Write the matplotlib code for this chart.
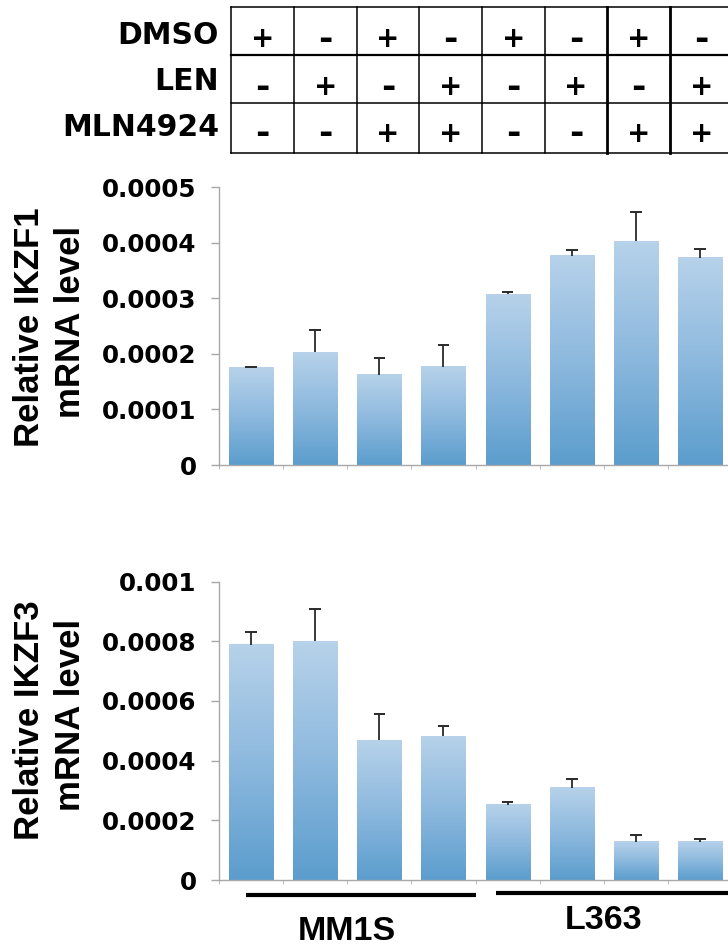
import numpy as np
import matplotlib
matplotlib.use("Agg")
import matplotlib.pyplot as plt
from matplotlib.colors import LinearSegmentedColormap
from matplotlib.lines import Line2D
import matplotlib.transforms as mtransforms

W, H = 728, 951

# treatment table
rows = ["DMSO", "LEN", "MLN4924"]
table = [["+", "-", "+", "-", "+", "-", "+", "-"],
         ["-", "+", "-", "+", "-", "+", "-", "+"],
         ["-", "-", "+", "+", "-", "-", "+", "+"]]

# qPCR values (relative mRNA level) and upper error
ikzf1 = [0.000175, 0.000203, 0.000162, 0.000177, 0.000307, 0.000376, 0.000402, 0.000373]
ikzf1_err = [0.000002, 0.000040, 0.000030, 0.000039, 0.000004, 0.000010, 0.000053, 0.000015]
ikzf3 = [0.000788, 0.000799, 0.000468, 0.000482, 0.000252, 0.000309, 0.000128, 0.000128]
ikzf3_err = [0.000043, 0.000108, 0.000089, 0.000033, 0.000009, 0.000028, 0.000022, 0.000009]
ticks1 = ["0", "0.0001", "0.0002", "0.0003", "0.0004", "0.0005"]
ticks3 = ["0", "0.0002", "0.0004", "0.0006", "0.0008", "0.001"]
groups = ["MM1S", "L363"]

HFONT = "DejaVu Sans"
VFONT = "Liberation Sans"

def fx(x):
    return x / W

def fy(y):
    return 1 - y / H

fig = plt.figure(figsize=(W / 100, H / 100), dpi=100)

cmap = LinearSegmentedColormap.from_list("bar", ["#5b9dcd", "#8db9de", "#b7d2ea"])
grad = np.linspace(0, 1, 256).reshape(-1, 1)


def panel(y_top, y_bot, vals, errs, ymax, labels, ylab, lab_y):
    left, right = 219, 219 + 8 * 64.14
    ax = fig.add_axes([fx(left), fy(y_bot), fx(right - left), (y_bot - y_top) / H])
    x = np.arange(len(vals))
    vals = np.array(vals)
    tops = vals + np.array(errs)
    bw = 0.69
    for xi, v in zip(x, vals):
        ax.imshow(grad, extent=[xi - bw / 2, xi + bw / 2, 0, v], origin="lower",
                  cmap=cmap, aspect="auto", zorder=2)
    # upper-only error bars
    ax.vlines(x, vals, tops, color="#2a2a2a", lw=1.3, zorder=3)
    ax.hlines(tops, x - 0.09, x + 0.09, color="#2a2a2a", lw=1.4, zorder=3)
    ax.set_xlim(-0.5, 7.5)
    ax.set_ylim(0, ymax)
    ax.set_yticks(np.linspace(0, ymax, len(labels)))
    ax.set_yticklabels(labels, fontfamily=HFONT, fontweight="bold", fontsize=17.7)
    ax.set_xticks([])
    ax.set_xticks(np.arange(-0.5, 7.6, 1), minor=True)
    ax.tick_params(axis="x", which="minor", direction="out", length=3,
                   color="#b0b0b0", labelbottom=False)
    ax.tick_params(axis="y", direction="out", length=6, width=1, color="#a8a8a8", pad=10)
    for s in ["top", "right"]:
        ax.spines[s].set_visible(False)
    for s in ["left", "bottom"]:
        ax.spines[s].set_color("#a8a8a8")
        ax.spines[s].set_linewidth(1)
    ax.set_facecolor("none")
    fig.text(fx(30), fy(lab_y), ylab[0], rotation=90, ha="center", va="center",
             fontfamily=VFONT, fontweight="bold", fontsize=25)
    fig.text(fx(71), fy(lab_y - 5), ylab[1], rotation=90, ha="center", va="center",
             fontfamily=VFONT, fontweight="bold", fontsize=25)
    return ax


panel(187, 465, ikzf1, ikzf1_err, 0.0005, ticks1, ["Relative IKZF1", "mRNA level"], 327)
ax2 = panel(581.5, 880, ikzf3, ikzf3_err, 0.001, ticks3, ["Relative IKZF3", "mRNA level"], 720)

# cell line bars under the lower panel
tr = mtransforms.blended_transform_factory(ax2.transData, ax2.transAxes)
ax2.add_line(Line2D([-0.08, 3.5], [-0.05, -0.05], transform=tr, color="black",
                    lw=3, clip_on=False, solid_capstyle="butt"))
ax2.add_line(Line2D([3.82, 8.0], [-0.042, -0.042], transform=tr, color="black",
                    lw=3, clip_on=False, solid_capstyle="butt"))
ax2.text(1.5, -0.174, groups[0], transform=tr, ha="center", va="center",
         fontfamily=VFONT, fontweight="bold", fontsize=24.5)
ax2.text(5.5, -0.136, groups[1], transform=tr, ha="center", va="center",
         fontfamily=VFONT, fontweight="bold", fontsize=24.5)

# treatment table at top
cols = [231, 294, 356.5, 419.3, 482, 544.7, 607.3, 670, 733]
rlines = [7.3, 55, 103.3, 152.7]
for c in cols:
    lw = 2.0 if c in (607.3, 670) else 1.1
    fig.add_artist(Line2D([fx(c), fx(c)], [fy(rlines[0]), fy(rlines[-1])],
                          color="black", lw=lw))
for i, r in enumerate(rlines):
    lw = 1.6 if i == 1 else 1.1
    fig.add_artist(Line2D([fx(cols[0]), fx(cols[-1])], [fy(r), fy(r)], color="black", lw=lw))

sym_y = [36, 84, 131]
lab_y = [35, 82, 127]
for i, name in enumerate(rows):
    fig.text(fx(219), fy(lab_y[i]), name, ha="right", va="center",
             fontfamily=HFONT, fontweight="bold", fontsize=21.5)
    for j, s in enumerate(table[i]):
        cx = (cols[j] + cols[j + 1]) / 2
        fig.text(fx(cx), fy(sym_y[i]), s, ha="center", va="center_baseline",
                 fontfamily=HFONT, fontweight="bold", fontsize=20 if s == "+" else 25)

fig.savefig("out.png", dpi=100)
